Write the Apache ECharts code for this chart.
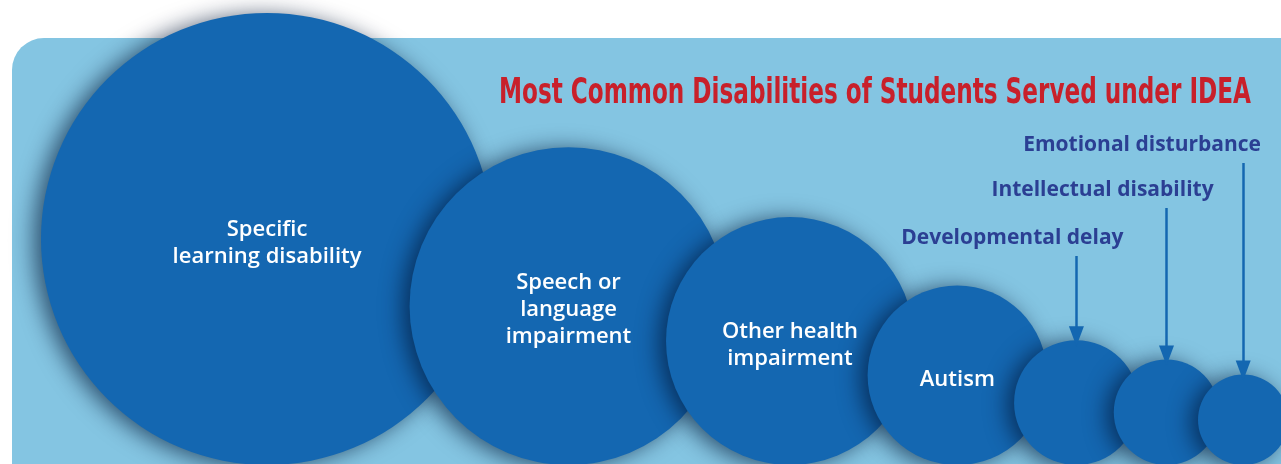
<!DOCTYPE html>
<html>
<head>
<meta charset="utf-8">
<script src="https://cdn.jsdelivr.net/npm/echarts@6/dist/echarts.min.js"></script>
<style>
  html, body { margin: 0; padding: 0; background: #ffffff; }
  #chart { width: 1281px; height: 464px; }
</style>
</head>
<body>
<div id="chart"></div>
<script>
// Disability categories, largest first
const categories = [
  'Specific\nlearning disability',
  'Speech or\nlanguage\nimpairment',
  'Other health\nimpairment',
  'Autism',
  'Developmental delay',
  'Intellectual disability',
  'Emotional disturbance'
];
// Relative size of each group (bubble diameter is proportional to it)
const shareIndex = [33, 23.2, 18.1, 13.1, 9.1, 7.7, 6.6];
// Groups labelled outside their bubble with a pointer arrow
const calloutFrom = 4;

const titleText = 'Most Common Disabilities of Students Served under IDEA';

const W = 1281, H = 464;
const BUBBLE = '#1467b1';
const PANEL = '#84c5e2';
const TITLE_RED = '#c8202a';
const CALLOUT_BLUE = '#2b3f93';
const LABEL_FONT = '"Open Sans", "Noto Sans", sans-serif';

// Bubble diameter from the group's size
const pxPerUnit = 13.7;
const diam = v => v * pxPerUnit;

// Row layout: bubbles sit on a common baseline, each overlapping its neighbour
const baseline = 465;
const firstLeft = 41;
const overlap = 0.783;
const centers = [];
shareIndex.forEach((v, i) => {
  const r = diam(v) / 2;
  let cx;
  if (i === 0) cx = firstLeft + r;
  else {
    const rp = diam(shareIndex[i - 1]) / 2;
    cx = centers[i - 1][0] + (rp + r) * overlap;
  }
  centers.push([cx, baseline - r]);
});

const bubbleData = shareIndex.map((v, i) => ({
  name: categories[i],
  value: [centers[i][0], centers[i][1], v],
  label: { show: i < calloutFrom }
}));

// Callout texts stack upward, one row per group
const calloutRowY = [238, 190, 145];
const calloutShift = -64;

const chart = echarts.init(document.getElementById('chart'), null, { renderer: 'canvas' });

// measure text so the condensed title fills its line
const ctx = document.createElement('canvas').getContext('2d');
function textWidth(str, font) { ctx.font = font; return ctx.measureText(str).width; }

const titleFont = 'bold 36px "Liberation Sans Narrow", "DejaVu Sans Condensed", sans-serif';
const titleScale = 752 / textWidth(titleText, titleFont);

const calloutFont = 'bold 21px ' + LABEL_FONT;

const arrowLines = [];
const calloutTexts = [];
for (let i = calloutFrom; i < categories.length; i++) {
  const k = i - calloutFrom;
  const [cx, cy] = centers[i];
  const r = diam(shareIndex[i]) / 2;
  const ty = calloutRowY[k];
  arrowLines.push([{ coord: [cx, ty + 18] }, { coord: [cx, cy - r - 4] }]);
  const tw = textWidth(categories[i], calloutFont);
  let tx = cx + calloutShift;
  if (tx + tw / 2 > W - 20) tx = W - 20 - tw / 2;
  calloutTexts.push({ x: tx, y: ty, text: categories[i] });
}

chart.setOption({
  animation: false,
  backgroundColor: '#ffffff',
  grid: { left: 0, right: 0, top: 0, bottom: 0 },
  xAxis: { type: 'value', min: 0, max: W, show: false },
  yAxis: { type: 'value', min: 0, max: H, inverse: true, show: false },
  graphic: [
    {
      type: 'rect', z: -10,
      shape: { x: 12, y: 38, width: W, height: H, r: [32, 0, 0, 0] },
      style: { fill: PANEL }
    },
    {
      type: 'text', z: 10,
      x: 499, y: 94, scaleX: titleScale,
      style: {
        text: titleText, font: titleFont, fill: TITLE_RED,
        textAlign: 'left', textVerticalAlign: 'middle'
      }
    }
  ].concat(calloutTexts.map(t => ({
    type: 'text', z: 10,
    x: t.x, y: t.y,
    style: {
      text: t.text, font: calloutFont, fill: CALLOUT_BLUE,
      textAlign: 'center', textVerticalAlign: 'middle'
    }
  }))),
  series: [{
    type: 'scatter',
    clip: false,
    symbol: 'circle',
    symbolSize: val => diam(val[2]),
    data: bubbleData,
    itemStyle: {
      color: BUBBLE,
      opacity: 1,
      shadowBlur: 22,
      shadowColor: 'rgba(0, 20, 50, 0.65)',
      shadowOffsetX: -7,
      shadowOffsetY: 2
    },
    emphasis: { disabled: true },
    label: {
      position: 'inside',
      offset: [0, 4],
      formatter: p => p.name,
      color: '#ffffff',
      fontFamily: LABEL_FONT,
      fontWeight: 600,
      fontSize: 22,
      lineHeight: 27,
      align: 'center'
    },
    markLine: {
      silent: true,
      animation: false,
      symbol: ['none', 'triangle'],
      symbolSize: [15, 20],
      label: { show: false },
      lineStyle: { color: BUBBLE, type: 'solid', width: 2.5 },
      data: arrowLines
    }
  }]
});
</script>
</body>
</html>
